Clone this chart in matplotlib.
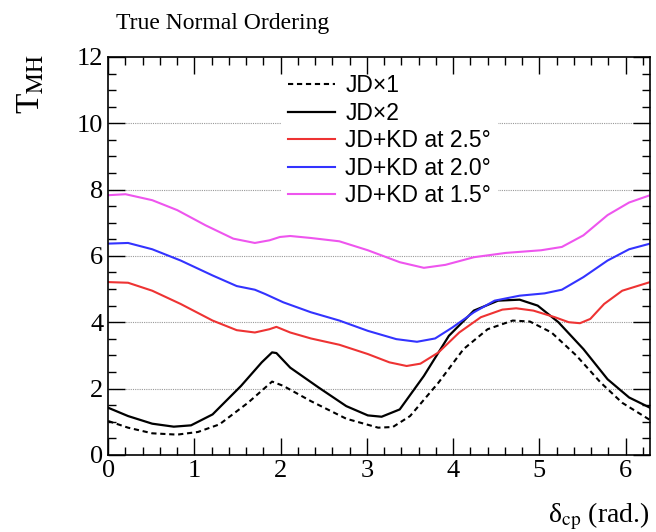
import numpy as np
import matplotlib
matplotlib.use("Agg")
import matplotlib.pyplot as plt
from matplotlib.ticker import MultipleLocator

plt.rcParams['font.family'] = ['Liberation Serif', 'DejaVu Serif']
plt.rcParams['mathtext.fontset'] = 'stix'

# JDx1 (dashed)
x_jd1 = [0, 0.23, 0.51, 0.8, 1.04, 1.29, 1.62, 1.9, 2.03, 2.35, 2.76, 3.13, 3.3, 3.5, 3.83,
         4.12, 4.4, 4.69, 4.89, 5.14, 5.43, 5.71, 5.96, 6.283]
y_jd1 = [1.02, 0.82, 0.65, 0.61, 0.69, 0.92, 1.57, 2.21, 2.08, 1.62, 1.09, 0.82, 0.84, 1.17, 2.18,
         3.19, 3.79, 4.05, 4.02, 3.69, 2.99, 2.18, 1.57, 1.05]

# JDx2
x_jd2 = [0, 0.23, 0.51, 0.76, 0.96, 1.21, 1.54, 1.78, 1.9, 1.95, 2.11, 2.44, 2.76, 3.01, 3.17,
         3.38, 3.66, 3.95, 4.24, 4.52, 4.77, 4.98, 5.22, 5.51, 5.79, 6.04, 6.283]
y_jd2 = [1.42, 1.17, 0.94, 0.85, 0.89, 1.22, 2.08, 2.79, 3.09, 3.07, 2.63, 2.03, 1.47, 1.19, 1.15,
         1.37, 2.38, 3.59, 4.35, 4.65, 4.68, 4.5, 4.0, 3.19, 2.28, 1.73, 1.42]

# JD+KD at 2.5 deg
x_kd25 = [0, 0.23, 0.51, 0.84, 1.21, 1.49, 1.7, 1.87, 1.95, 2.11, 2.35, 2.68, 3.01, 3.26, 3.46,
          3.62, 3.83, 4.07, 4.32, 4.57, 4.73, 4.93, 5.18, 5.34, 5.47, 5.59, 5.75, 5.96, 6.283]
y_kd25 = [5.21, 5.19, 4.95, 4.55, 4.05, 3.76, 3.69, 3.79, 3.86, 3.69, 3.51, 3.32, 3.04, 2.79, 2.68,
          2.75, 3.09, 3.69, 4.15, 4.38, 4.42, 4.35, 4.15, 4.0, 3.97, 4.1, 4.55, 4.95, 5.21]

# JD+KD at 2.0 deg
x_kd20 = [0, 0.23, 0.51, 0.84, 1.21, 1.49, 1.7, 1.82, 2.03, 2.35, 2.68, 3.01, 3.34, 3.58, 3.79,
          3.99, 4.24, 4.48, 4.77, 5.06, 5.26, 5.51, 5.79, 6.04, 6.283]
y_kd20 = [6.37, 6.39, 6.2, 5.86, 5.41, 5.09, 4.98, 4.85, 4.6, 4.3, 4.05, 3.74, 3.49, 3.41, 3.51,
          3.84, 4.3, 4.65, 4.8, 4.87, 4.98, 5.36, 5.86, 6.2, 6.37]

# JD+KD at 1.5 deg
x_kd15 = [0, 0.2, 0.51, 0.8, 1.13, 1.45, 1.7, 1.87, 1.99, 2.11, 2.35, 2.68, 3.01, 3.38, 3.66,
          3.91, 4.24, 4.61, 5.02, 5.26, 5.51, 5.79, 6.04, 6.283]
y_kd15 = [7.83, 7.86, 7.68, 7.38, 6.92, 6.52, 6.39, 6.47, 6.57, 6.6, 6.54, 6.44, 6.17, 5.81, 5.64,
          5.73, 5.96, 6.09, 6.17, 6.27, 6.62, 7.23, 7.61, 7.83]

fig = plt.figure(figsize=(6.56, 5.32), dpi=100)
ax = fig.add_axes([0.165, 0.145, 0.826, 0.748])

for yv in [2, 4, 6, 8, 10]:
    ax.axhline(yv, color='#999999', lw=0.8, ls=(0, (1, 1)), zorder=1)

ax.plot(x_jd1, y_jd1, color='black', lw=1.5, ls=(0, (2.5, 1.8)), label='JD×1', zorder=3)
ax.plot(x_jd2, y_jd2, color='black', lw=1.6, label='JD×2', zorder=3)
ax.plot(x_kd25, y_kd25, color='#ee3333', lw=1.5, label='JD+KD at 2.5°', zorder=3)
ax.plot(x_kd20, y_kd20, color='#3333ff', lw=1.5, label='JD+KD at 2.0°', zorder=3)
ax.plot(x_kd15, y_kd15, color='#ee55ee', lw=1.5, label='JD+KD at 1.5°', zorder=3)

ax.set_xlim(0, 2 * np.pi)
ax.set_ylim(0, 12)
ax.xaxis.set_major_locator(MultipleLocator(1))
ax.xaxis.set_minor_locator(MultipleLocator(0.2))
ax.yaxis.set_major_locator(MultipleLocator(2))
ax.yaxis.set_minor_locator(MultipleLocator(0.5))
ax.tick_params(which='both', direction='in', top=True, right=True, labelsize=19, width=1.0)
ax.tick_params(which='major', length=12)
ax.tick_params(which='minor', length=6)
for s in ax.spines.values():
    s.set_linewidth(1.2)
    s.set_zorder(5)
ax.xaxis.set_zorder(4)
ax.yaxis.set_zorder(4)

leg = ax.legend(loc='upper left', bbox_to_anchor=(0.298, 1.003), frameon=True, fancybox=False,
                edgecolor='none', facecolor='white', framealpha=1.0, handlelength=2.05,
                handletextpad=0.45, labelspacing=0.2, borderpad=0.3,
                prop={'family': ['Liberation Sans', 'DejaVu Sans'], 'size': 16.5})
leg.set_zorder(2)

fig.text(0.177, 0.955, 'True Normal Ordering', fontsize=17, ha='left', va='center')
fig.text(0.048, 0.842, r'T$_{\mathrm{MH}}$', fontsize=24, rotation=90, ha='center', va='center')
fig.text(0.99, 0.03, r'δ$_{\mathrm{cp}}$ (rad.)', fontsize=20, ha='right', va='center')

fig.savefig('out.png', dpi=100)
